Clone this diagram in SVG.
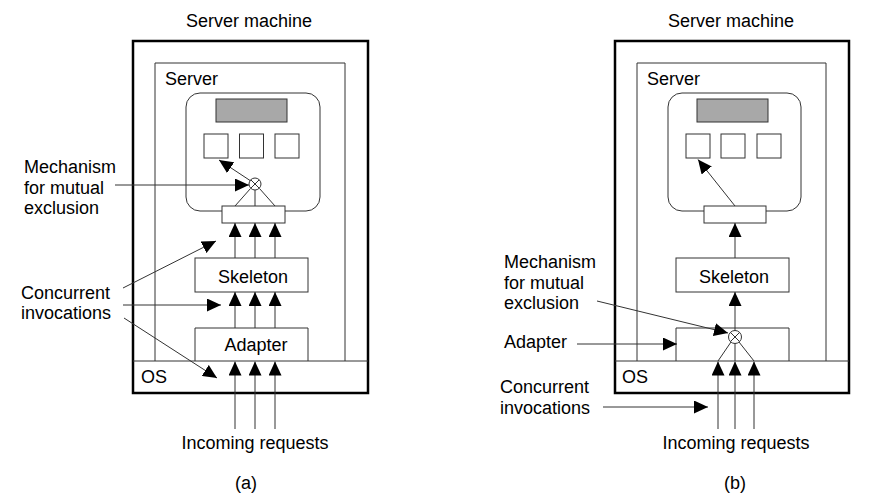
<svg xmlns="http://www.w3.org/2000/svg" width="871" height="504" viewBox="0 0 871 504">
<defs>
<marker id="ah" markerUnits="userSpaceOnUse" markerWidth="14" markerHeight="13" refX="14" refY="6.5" orient="auto">
<path d="M0,0 L14,6.5 L0,13 z" fill="#000"/>
</marker>
</defs>
<style>
text{font-family:"Liberation Sans",Arial,sans-serif;font-size:18px;fill:#000}
.mid{text-anchor:middle}
.outer{fill:none;stroke:#000;stroke-width:2.5}
.thin{fill:none;stroke:#333;stroke-width:1}
.box{fill:#fff;stroke:#333;stroke-width:1}
.gray{fill:#a8a8a8;stroke:#333;stroke-width:1}
.ar{stroke:#333;stroke-width:1;fill:none;marker-end:url(#ah)}
.ln{stroke:#333;stroke-width:1;fill:none}
</style>
<rect width="871" height="504" fill="#fff"/>

<!-- Panel (a) -->
<g id="a-machine">
<text x="249" y="27" class="mid">Server machine</text>
<rect x="133" y="41" width="235" height="352" class="outer"/>
</g>
<g id="a-os">
<line x1="133" y1="361" x2="368" y2="361" class="thin"/>
<text x="141" y="383">OS</text>
</g>
<g id="a-server">
<path d="M155,361 V63 H345 V361" class="thin"/>
<text x="165" y="85">Server</text>
</g>
<g id="a-object">
<rect x="186" y="93" width="134" height="118" rx="14" class="thin"/>
<rect x="216" y="99" width="71" height="23" class="gray"/>
<rect x="204" y="134" width="24" height="24" class="box"/>
<rect x="239.5" y="134" width="24" height="24" class="box"/>
<rect x="275" y="134" width="24" height="24" class="box"/>
<rect x="222" y="206" width="63" height="17" class="box"/>
</g>
<g id="a-mutex">
<circle cx="255" cy="184" r="6" class="box"/>
<path d="M250.8,179.8 L259.2,188.2 M259.2,179.8 L250.8,188.2" class="ln"/>
</g>
<g id="a-skeleton">
<rect x="195" y="258" width="113" height="34" class="box"/>
<text x="253" y="283" class="mid">Skeleton</text>
</g>
<g id="a-adapter">
<path d="M195,361 V328 H308 V361" class="thin"/>
<text x="256" y="351" class="mid">Adapter</text>
</g>
<g id="a-labels">
<text x="24" y="173">Mechanism</text>
<text x="24" y="193.5">for mutual</text>
<text x="24" y="214">exclusion</text>
<text x="21" y="299">Concurrent</text>
<text x="21" y="319">invocations</text>
<text x="255" y="449" class="mid">Incoming requests</text>
<text x="246" y="489" class="mid">(a)</text>
</g>
<g id="a-connectors">
<line x1="250.5" y1="180.8" x2="219" y2="160" class="ar"/>
<line x1="250.5" y1="188.5" x2="235" y2="206" class="ln"/>
<line x1="255" y1="190" x2="255" y2="206" class="ln"/>
<line x1="259.5" y1="188.5" x2="275" y2="206" class="ln"/>
<line x1="235" y1="258" x2="235" y2="223" class="ar"/>
<line x1="255" y1="258" x2="255" y2="223" class="ar"/>
<line x1="275" y1="258" x2="275" y2="223" class="ar"/>
<line x1="235" y1="328" x2="235" y2="292" class="ar"/>
<line x1="255" y1="328" x2="255" y2="292" class="ar"/>
<line x1="275" y1="328" x2="275" y2="292" class="ar"/>
<line x1="235" y1="429" x2="235" y2="361.5" class="ar"/>
<line x1="255" y1="429" x2="255" y2="361.5" class="ar"/>
<line x1="275" y1="429" x2="275" y2="361.5" class="ar"/>
<line x1="115" y1="185" x2="249" y2="185" class="ar"/>
<line x1="123" y1="288" x2="216" y2="241" class="ar"/>
<line x1="123" y1="305" x2="221" y2="305" class="ar"/>
<line x1="124" y1="318" x2="217" y2="378" class="ar"/>
</g>

<!-- Panel (b) -->
<g id="b-machine">
<text x="731" y="27" class="mid">Server machine</text>
<rect x="615" y="41" width="234" height="352" class="outer"/>
</g>
<g id="b-os">
<line x1="615" y1="361" x2="849" y2="361" class="thin"/>
<text x="622" y="383">OS</text>
</g>
<g id="b-server">
<path d="M637,361 V63 H826 V361" class="thin"/>
<text x="647" y="85">Server</text>
</g>
<g id="b-object">
<rect x="668" y="93" width="133" height="118" rx="14" class="thin"/>
<rect x="697" y="99" width="71" height="23" class="gray"/>
<rect x="686" y="134" width="24" height="24" class="box"/>
<rect x="721" y="134" width="24" height="24" class="box"/>
<rect x="757" y="134" width="24" height="24" class="box"/>
<rect x="704" y="206" width="62" height="17" class="box"/>
</g>
<g id="b-skeleton">
<rect x="676" y="258" width="113" height="34" class="box"/>
<text x="734" y="283" class="mid">Skeleton</text>
</g>
<g id="b-adapter">
<path d="M676,361 V328 H789 V361" class="thin"/>
</g>
<g id="b-mutex">
<circle cx="735" cy="337" r="6.5" class="box"/>
<path d="M730.5,332.5 L739.5,341.5 M739.5,332.5 L730.5,341.5" class="ln"/>
</g>
<g id="b-labels">
<text x="504" y="268">Mechanism</text>
<text x="504" y="288.5">for mutual</text>
<text x="504" y="309">exclusion</text>
<text x="504" y="348">Adapter</text>
<text x="500" y="393">Concurrent</text>
<text x="500" y="413.5">invocations</text>
<text x="736" y="449" class="mid">Incoming requests</text>
<text x="735" y="489" class="mid">(b)</text>
</g>
<g id="b-connectors">
<line x1="735" y1="206" x2="698" y2="159.5" class="ar"/>
<line x1="735" y1="258" x2="735" y2="223" class="ar"/>
<line x1="735" y1="330.5" x2="735" y2="292" class="ar"/>
<line x1="731" y1="342" x2="718" y2="361" class="ln"/>
<line x1="735" y1="343.5" x2="735" y2="361" class="ln"/>
<line x1="739" y1="342" x2="754" y2="361" class="ln"/>
<line x1="718" y1="429" x2="718" y2="361.5" class="ar"/>
<line x1="735" y1="429" x2="735" y2="361.5" class="ar"/>
<line x1="754" y1="429" x2="754" y2="361.5" class="ar"/>
<line x1="597" y1="301" x2="728" y2="333" class="ar"/>
<line x1="577" y1="344" x2="677" y2="344" class="ar"/>
<line x1="603" y1="407" x2="708" y2="407" class="ar"/>
</g>
</svg>
